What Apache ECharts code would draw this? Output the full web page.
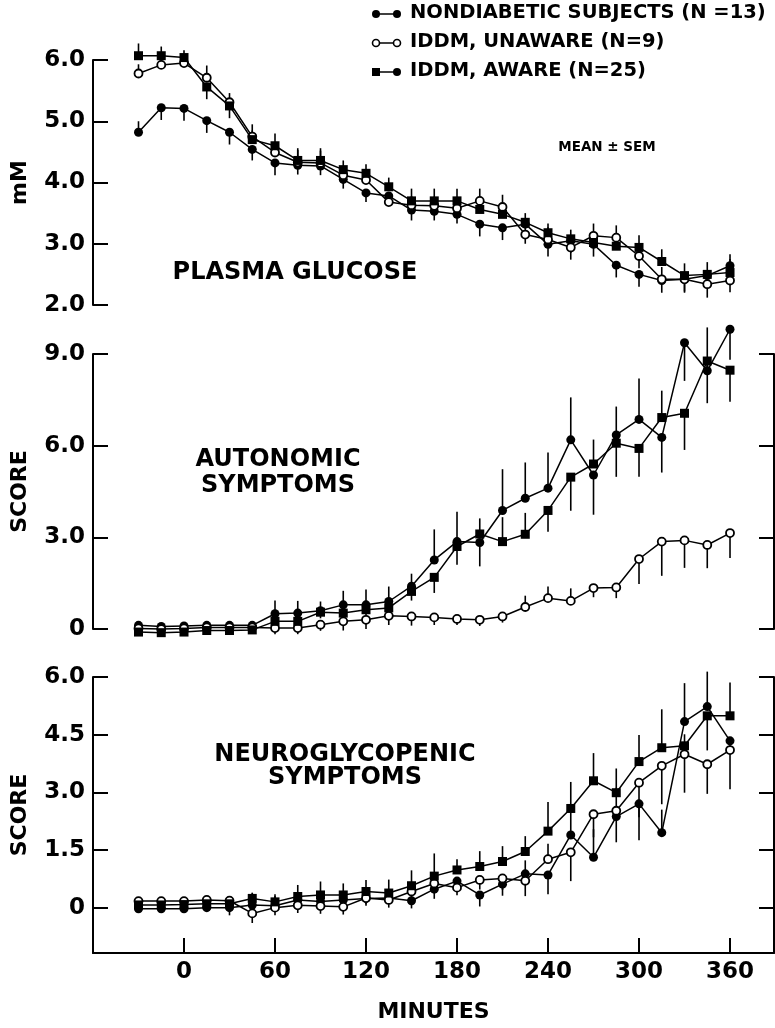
<!DOCTYPE html>
<html>
<head>
<meta charset="utf-8">
<script src="https://cdn.jsdelivr.net/npm/echarts@6/dist/echarts.min.js"></script>
<style>
html,body{margin:0;padding:0;background:#fff;}
#chart{width:775px;height:1028px;}
</style>
</head>
<body>
<div id="chart"></div>
<script>
// ---- data ----
var minutes = [-30,-15,0,15,30,45,60,75,90,105,120,135,150,165,180,195,210,225,240,255,270,285,300,315,330,345,360];
var seriesNames = ['NONDIABETIC SUBJECTS (N =13)', 'IDDM, UNAWARE (N=9)', 'IDDM, AWARE (N=25)'];
var xTickValues = [0,60,120,180,240,300,360];

// Plasma glucose (mM)
var glucoseND = [4.82,5.22,5.21,5.01,4.82,4.54,4.32,4.28,4.27,4.05,3.83,3.78,3.55,3.53,3.48,3.32,3.26,3.32,2.99,3.05,2.99,2.65,2.50,2.40,2.42,2.48,2.64];
var glucoseUN = [5.78,5.92,5.95,5.71,5.31,4.75,4.49,4.33,4.32,4.12,4.04,3.68,3.63,3.62,3.58,3.70,3.60,3.15,3.07,2.94,3.13,3.10,2.80,2.42,2.42,2.34,2.40];
var glucoseAW = [6.07,6.07,6.04,5.56,5.25,4.70,4.60,4.36,4.36,4.21,4.15,3.93,3.70,3.70,3.70,3.56,3.48,3.35,3.18,3.08,3.02,2.96,2.94,2.71,2.48,2.50,2.53];
var glucoseNDsem = [0.18,-0.2,-0.2,-0.2,-0.2,-0.18,-0.2,-0.15,-0.15,-0.15,-0.15,-0.15,-0.17,-0.15,-0.15,-0.2,-0.2,-0.15,-0.2,-0.2,-0.2,-0.2,-0.2,-0.2,-0.22,-0.2,0.19];
var glucoseUNsem = [0.15,0.12,0.12,0.2,0.15,0.2,0.15,0.2,0.2,0.15,0.15,0.15,0.15,0.15,0.15,0.2,0.2,-0.15,0.2,-0.2,0.2,0.2,-0.2,0.2,-0.2,-0.22,-0.19];
var glucoseAWsem = [0.2,0.15,0.12,-0.2,-0.2,0.15,0.2,0.2,0.2,0.15,0.15,0.15,0.2,0.2,0.2,0.15,0.15,0.15,0.15,0.15,0.15,0.2,0.2,0.2,0.2,0.2,0.22];

// Autonomic symptoms (score)
var autoND = [0.12,0.08,0.10,0.12,0.12,0.12,0.50,0.52,0.60,0.79,0.79,0.90,1.40,2.26,2.86,2.83,3.88,4.28,4.61,6.19,5.04,6.35,6.86,6.27,9.37,8.45,9.81];
var autoUN = [0.02,0.00,0.02,0.05,0.05,0.05,0.03,0.03,0.14,0.25,0.30,0.43,0.41,0.38,0.33,0.30,0.41,0.72,1.01,0.92,1.34,1.36,2.29,2.86,2.90,2.75,3.14];
var autoAW = [-0.10,-0.12,-0.10,-0.05,-0.05,-0.03,0.25,0.25,0.55,0.52,0.63,0.69,1.23,1.69,2.70,3.11,2.86,3.10,3.88,4.97,5.40,6.08,5.91,6.92,7.06,8.77,8.47];
var autoNDsem = [0.1,0.1,0.1,0.1,0.1,0.1,0.43,0.4,0.3,0.46,0.5,0.49,0.41,1.0,0.98,-0.78,1.35,1.17,1.17,1.39,-1.3,0.93,1.34,-1.15,-1.25,1.42,-1.0];
var autoUNsem = [-0.1,-0.1,-0.1,-0.1,-0.1,-0.1,-0.2,-0.2,-0.2,-0.3,-0.3,-0.3,-0.3,-0.25,-0.2,-0.2,-0.2,0.37,0.38,0.41,-0.3,-0.35,-0.82,-1.12,-0.9,-0.76,-0.82];
var autoAWsem = [-0.1,-0.1,-0.1,-0.1,-0.1,-0.1,-0.35,-0.35,-0.2,-0.3,-0.3,-0.3,-0.3,-0.51,-0.6,0.51,0.8,0.7,-0.7,-1.1,0.8,-1.1,-0.93,0.88,-1.2,-1.38,-1.03];

// Neuroglycopenic symptoms (score)
var neuroND = [-0.03,-0.03,-0.03,0.00,0.00,0.07,0.05,0.20,0.16,0.20,0.24,0.25,0.18,0.48,0.69,0.33,0.61,0.88,0.85,1.89,1.31,2.37,2.70,1.95,4.84,5.23,4.34];
var neuroUN = [0.17,0.17,0.17,0.20,0.18,-0.15,0.00,0.06,0.04,0.02,0.25,0.20,0.42,0.63,0.52,0.72,0.76,0.70,1.26,1.44,2.43,2.52,3.25,3.69,3.99,3.73,4.10];
var neuroAW = [0.07,0.07,0.08,0.10,0.10,0.24,0.15,0.29,0.33,0.33,0.42,0.38,0.57,0.82,0.98,1.07,1.20,1.46,1.99,2.58,3.30,2.99,3.80,4.16,4.21,4.99,4.99];
var neuroNDsem = [-0.1,-0.1,-0.1,-0.1,-0.2,0.3,0.25,-0.2,-0.2,-0.2,-0.15,-0.15,-0.2,-0.25,-0.25,-0.3,-0.3,0.35,-0.5,0.6,0.73,-0.67,-0.95,0.6,1.0,0.91,-0.25];
var neuroUNsem = [0.1,0.1,0.1,0.1,0.1,-0.25,-0.2,-0.2,-0.2,-0.2,-0.2,-0.2,-0.2,-0.25,-0.2,-0.25,-0.3,-0.4,0.4,-0.75,-0.6,0.6,-0.9,-1.0,-1.0,-0.77,-1.02];
var neuroAWsem = [0.1,0.1,0.1,0.15,0.2,0.15,0.2,0.3,0.35,0.3,0.3,0.35,0.4,0.59,0.28,0.4,0.4,0.4,0.76,0.69,0.72,0.63,0.69,1.0,0.3,-0.9,0.87];

// ---- chart ----
var FONT = 'DejaVu Sans';
var chart = echarts.init(document.getElementById('chart'), null, {renderer: 'canvas'});

var panels = [
  {vals: [glucoseND, glucoseUN, glucoseAW], sems: [glucoseNDsem, glucoseUNsem, glucoseAWsem], y: 0},
  {vals: [autoND, autoUN, autoAW], sems: [autoNDsem, autoUNsem, autoAWsem], y: 1},
  {vals: [neuroND, neuroUN, neuroAW], sems: [neuroNDsem, neuroUNsem, neuroAWsem], y: 3}
];

var styles = [
  {symbol: 'circle', symbolSize: 9, itemStyle: {color: '#000', borderColor: '#000', borderWidth: 0}},
  {symbol: 'circle', symbolSize: 8, itemStyle: {color: '#fff', borderColor: '#000', borderWidth: 1.8}},
  {symbol: 'rect', symbolSize: 9, itemStyle: {color: '#000', borderColor: '#000', borderWidth: 0}}
];

function errRender(params, api) {
  var p0 = api.coord([api.value(0), api.value(1)]);
  var p1 = api.coord([api.value(0), api.value(2)]);
  return {type: 'line', shape: {x1: p0[0], y1: p0[1], x2: p1[0], y2: p1[1]},
          style: {stroke: '#000', lineWidth: 1.6}};
}

var series = [];
panels.forEach(function (p, pi) {
  p.vals.forEach(function (v, si) {
    series.push({
      type: 'custom', name: seriesNames[si] + ' SEM', xAxisIndex: pi, yAxisIndex: p.y,
      renderItem: errRender, clip: false, z: 1,
      encode: {x: 0, y: [1, 2]},
      data: minutes.map(function (t, i) { return [t, v[i], v[i] + p.sems[si][i]]; })
    });
  });
  p.vals.forEach(function (v, si) {
    series.push({
      type: 'line', name: seriesNames[si], xAxisIndex: pi, yAxisIndex: p.y,
      symbol: styles[si].symbol, symbolSize: styles[si].symbolSize,
      itemStyle: styles[si].itemStyle, showSymbol: true, clip: false, z: 3 + si,
      lineStyle: {color: '#000', width: 1.5},
      data: minutes.map(function (t, i) { return [t, v[i]]; })
    });
  });
});

var axisLine = {show: true, onZero: false, lineStyle: {color: '#000', width: 2}};
var tick = {show: true, inside: true, length: 15, lineStyle: {color: '#000', width: 2}};
var lab = {color: '#000', fontFamily: FONT, fontWeight: 'bold', fontSize: 23, margin: 8};
function fmt1(v) { return v === 0 ? '0' : v.toFixed(1); }
var nameStyle = {color: '#000', fontFamily: FONT, fontWeight: 'bold', fontSize: 22};

var option = {
  animation: false,
  backgroundColor: '#fff',
  grid: [
    {left: 93, right: 1, top: 60, height: 245},
    {left: 93, right: 1, top: 354, height: 275},
    {left: 93, right: 1, top: 677, height: 276}
  ],
  xAxis: [
    {gridIndex: 0, type: 'value', min: -60, max: 389, show: false},
    {gridIndex: 1, type: 'value', min: -60, max: 389, show: false},
    {gridIndex: 2, type: 'value', min: -60, max: 389,
     axisLine: axisLine,
     axisTick: Object.assign({}, tick, {customValues: xTickValues}),
     axisLabel: Object.assign({}, lab, {customValues: xTickValues, margin: 8}),
     splitLine: {show: false},
     name: 'MINUTES', nameLocation: 'middle', nameGap: 48, nameTextStyle: nameStyle}
  ],
  yAxis: [
    {gridIndex: 0, type: 'value', min: 2, max: 6, interval: 1, position: 'left',
     axisLine: axisLine, axisTick: tick, splitLine: {show: false},
     axisLabel: Object.assign({}, lab, {formatter: fmt1}),
     name: 'mM', nameLocation: 'middle', nameGap: 62, nameTextStyle: nameStyle},
    {gridIndex: 1, type: 'value', min: 0, max: 9, interval: 3, position: 'left',
     axisLine: axisLine, axisTick: tick, splitLine: {show: false},
     axisLabel: Object.assign({}, lab, {formatter: fmt1}),
     name: 'SCORE', nameLocation: 'middle', nameGap: 62, nameTextStyle: nameStyle},
    {gridIndex: 1, type: 'value', min: 0, max: 9, interval: 3, position: 'right',
     axisLine: axisLine, axisTick: tick, splitLine: {show: false}, axisLabel: {show: false}},
    {gridIndex: 2, type: 'value', min: -1.18, max: 6, position: 'left',
     axisLine: axisLine,
     axisTick: Object.assign({}, tick, {customValues: [0, 1.5, 3, 4.5, 6]}),
     splitLine: {show: false},
     axisLabel: Object.assign({}, lab, {formatter: fmt1, customValues: [0, 1.5, 3, 4.5, 6]}),
     name: 'SCORE', nameLocation: 'middle', nameGap: 62, nameTextStyle: nameStyle},
    {gridIndex: 2, type: 'value', min: -1.18, max: 6, position: 'right',
     axisLine: axisLine,
     axisTick: Object.assign({}, tick, {customValues: [0, 1.5, 3, 4.5, 6]}),
     splitLine: {show: false}, axisLabel: {show: false}}
  ],
  series: series,
  graphic: []
};

// legend (drawn as graphic)
var legendY = [14, 43, 72];
var g = [];
legendY.forEach(function (y, i) {
  g.push({type: 'line', shape: {x1: 376, y1: y, x2: 397, y2: y}, style: {stroke: '#000', lineWidth: 1.5}});
  if (i === 0) g.push({type: 'circle', shape: {cx: 376, cy: y, r: 4}, style: {fill: '#000'}});
  if (i === 1) g.push({type: 'circle', shape: {cx: 376, cy: y, r: 3.5}, style: {fill: '#fff', stroke: '#000', lineWidth: 1.6}});
  if (i === 2) g.push({type: 'rect', shape: {x: 372, y: y - 4, width: 8, height: 8}, style: {fill: '#000'}});
  if (i === 1) g.push({type: 'circle', shape: {cx: 397, cy: y, r: 3.5}, style: {fill: '#fff', stroke: '#000', lineWidth: 1.6}});
  else g.push({type: 'circle', shape: {cx: 397, cy: y, r: 4}, style: {fill: '#000'}});
  g.push({type: 'text', left: 410, top: y - 11,
          style: {text: seriesNames[i], font: 'bold 19.5px "DejaVu Sans"', fill: '#000'}});
});
function ctext(txt, cx, cy, size) {
  return {type: 'text', x: cx, y: cy,
          style: {text: txt, font: 'bold ' + size + 'px "DejaVu Sans"', fill: '#000', align: 'center', verticalAlign: 'middle'}};
}
g.push(ctext('MEAN \u00B1 SEM', 607, 147, 13.5));
g.push(ctext('PLASMA GLUCOSE', 295, 273, 24));
g.push(ctext('AUTONOMIC', 278, 460, 24));
g.push(ctext('SYMPTOMS', 278, 486, 24));
g.push(ctext('NEUROGLYCOPENIC', 345, 755, 24));
g.push(ctext('SYMPTOMS', 345, 778, 24));
option.graphic = g;

chart.setOption(option);
</script>
</body>
</html>
